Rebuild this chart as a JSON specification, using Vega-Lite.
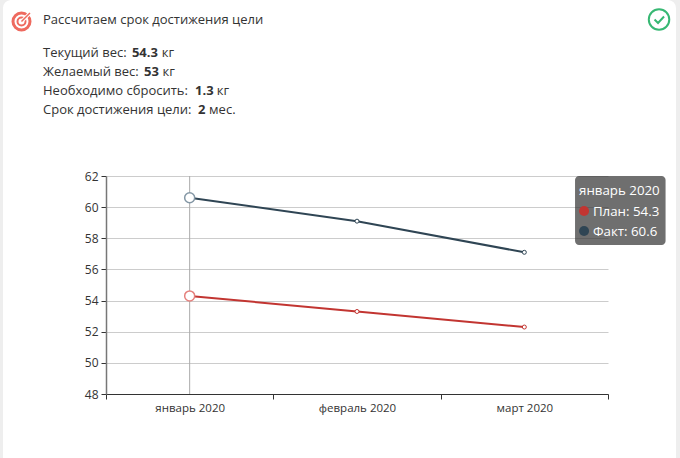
{
"$schema":"https://vega.github.io/schema/vega-lite/v6.json",
"width":502,"height":218,
"autosize":"none",
"padding":{"left":106,"top":176,"right":72,"bottom":64},
"background":"#ffffff",
"config":{"view":{"stroke":null},"text":{"font":"Open Sans","fontSize":13,"color":"#333333","align":"left","baseline":"middle"}},
"resolve":{"scale":{"x":"independent"},"axis":{"y":"independent"}},
"layer":[
{"data":{"values":[{"part":"card"}]},"mark":{"type":"rect","fill":null,"stroke":"#eeeeee","strokeWidth":8,"cornerRadius":12},
 "encoding":{"x":{"datum":-0.6394,"type":"quantitative","scale":{"domain":[0,3]},"axis":null},"x2":{"datum":3.43},"y":{"datum":73.56,"type":"quantitative","axis":null},"y2":{"datum":43.12}}},
{"data":{"values":[{"month":"январь 2020"}]},"mark":{"type":"rule","stroke":"#aaaaaa","strokeWidth":1},
 "encoding":{"x":{"datum":0.5,"type":"quantitative","scale":{"domain":[0,3]},"axis":null},"y":{"datum":48,"type":"quantitative","axis":null},"y2":{"datum":62}}},
{"data":{"values":[
{"month":"январь 2020","series":"План","value":54.3},{"month":"февраль 2020","series":"План","value":53.3},{"month":"март 2020","series":"План","value":52.3},
{"month":"январь 2020","series":"Факт","value":60.6},{"month":"февраль 2020","series":"Факт","value":59.1},{"month":"март 2020","series":"Факт","value":57.1}]},
 "mark":{"type":"line","strokeWidth":2,"point":{"filled":true,"fill":"#ffffff","size":16,"strokeWidth":1,"opacity":1,"stroke":{"expr":"datum.series==='План'?'#c23531':'#2f4554'"}}},
 "encoding":{
 "x":{"field":"month","type":"nominal","sort":null,"scale":{"type":"band","domain":["январь 2020","февраль 2020","март 2020"],"paddingInner":0,"paddingOuter":0},
  "axis":{"title":null,"labelAngle":0,"tickBand":"extent","tickSize":5,"domainColor":"#333333","tickColor":"#333333","labelColor":"#333333","labelFont":"Open Sans","labelFontSize":11.5,"labelPadding":3,"grid":false}},
 "y":{"field":"value","type":"quantitative","scale":{"domain":[48,62],"nice":false,"zero":false},
  "axis":{"title":null,"values":[48,50,52,54,56,58,60,62],"labelOverlap":false,"tickSize":5,"domainColor":"#777777","domainWidth":1.5,"tickColor":"#333333","labelColor":"#333333","labelFont":"Open Sans","labelFontSize":12,"labelPadding":3,"grid":true,"gridColor":"#cccccc"}},
 "color":{"field":"series","type":"nominal","scale":{"domain":["План","Факт"],"range":["#c23531","#2f4554"]},"legend":null}}},
{"data":{"values":[{"month":"январь 2020","series":"План","value":54.3},{"month":"январь 2020","series":"Факт","value":60.6}]},
 "mark":{"type":"point","filled":true,"fill":"#ffffff","size":100,"strokeWidth":1.5,"opacity":1},
 "encoding":{"x":{"field":"month","type":"nominal","sort":null,"scale":{"type":"band","domain":["январь 2020","февраль 2020","март 2020"],"paddingInner":0,"paddingOuter":0},"axis":null},
 "y":{"field":"value","type":"quantitative","axis":null},
 "stroke":{"field":"series","type":"nominal","scale":{"domain":["План","Факт"],"range":["#e5817d","#8497a5"]},"legend":null}}},
{"data":{"values":[{"part":"tooltip"}]},"mark":{"type":"rect","fill":"#323232","fillOpacity":0.7,"cornerRadius":4},
 "encoding":{"x":{"datum":2.803,"type":"quantitative","scale":{"domain":[0,3]},"axis":null},"x2":{"datum":3.344},"y":{"datum":62,"type":"quantitative","axis":null},"y2":{"datum":57.57}}},
{"data":{"values":[{"label":"январь 2020"}]},"mark":{"type":"text","color":"#ffffff","fontSize":13.3},
 "encoding":{"text":{"field":"label"},"x":{"datum":2.827,"type":"quantitative","scale":{"domain":[0,3]},"axis":null},"y":{"datum":61.05,"type":"quantitative","axis":null}}},
{"data":{"values":[{"label":"План: 54.3"}]},"mark":{"type":"text","color":"#ffffff","fontSize":13.3},
 "encoding":{"text":{"field":"label"},"x":{"datum":2.91,"type":"quantitative","scale":{"domain":[0,3]},"axis":null},"y":{"datum":59.7,"type":"quantitative","axis":null}}},
{"data":{"values":[{"label":"Факт: 60.6"}]},"mark":{"type":"text","color":"#ffffff","fontSize":13.3},
 "encoding":{"text":{"field":"label"},"x":{"datum":2.91,"type":"quantitative","scale":{"domain":[0,3]},"axis":null},"y":{"datum":58.42,"type":"quantitative","axis":null}}},
{"data":{"values":[{"series":"План"}]},"mark":{"type":"point","filled":true,"color":"#c23531","size":100,"opacity":1},
 "encoding":{"x":{"datum":2.857,"type":"quantitative","scale":{"domain":[0,3]},"axis":null},"y":{"datum":59.75,"type":"quantitative","axis":null}}},
{"data":{"values":[{"series":"Факт"}]},"mark":{"type":"point","filled":true,"color":"#2f4554","size":100,"opacity":1},
 "encoding":{"x":{"datum":2.857,"type":"quantitative","scale":{"domain":[0,3]},"axis":null},"y":{"datum":58.47,"type":"quantitative","axis":null}}},
{"data":{"values":[{"label":"Рассчитаем срок достижения цели"}]},"mark":{"type":"text"},
 "encoding":{"text":{"field":"label"},"x":{"datum":-0.3765,"type":"quantitative","scale":{"domain":[0,3]},"axis":null},"y":{"datum":72.03,"type":"quantitative","axis":null}}},
{"data":{"values":[{"label":"Текущий вес:"}]},"mark":{"type":"text"},
 "encoding":{"text":{"field":"label"},"x":{"datum":-0.3765,"type":"quantitative","scale":{"domain":[0,3]},"axis":null},"y":{"datum":69.9,"type":"quantitative","axis":null}}},
{"data":{"values":[{"label":"54.3"}]},"mark":{"type":"text","fontWeight":"bold"},
 "encoding":{"text":{"field":"label"},"x":{"datum":0.155,"type":"quantitative","scale":{"domain":[0,3]},"axis":null},"y":{"datum":69.9,"type":"quantitative","axis":null}}},
{"data":{"values":[{"label":"кг"}]},"mark":{"type":"text"},
 "encoding":{"text":{"field":"label"},"x":{"datum":0.333,"type":"quantitative","scale":{"domain":[0,3]},"axis":null},"y":{"datum":69.9,"type":"quantitative","axis":null}}},
{"data":{"values":[{"label":"Желаемый вес:"}]},"mark":{"type":"text"},
 "encoding":{"text":{"field":"label"},"x":{"datum":-0.3765,"type":"quantitative","scale":{"domain":[0,3]},"axis":null},"y":{"datum":68.68,"type":"quantitative","axis":null}}},
{"data":{"values":[{"label":"53"}]},"mark":{"type":"text","fontWeight":"bold"},
 "encoding":{"text":{"field":"label"},"x":{"datum":0.227,"type":"quantitative","scale":{"domain":[0,3]},"axis":null},"y":{"datum":68.68,"type":"quantitative","axis":null}}},
{"data":{"values":[{"label":"кг"}]},"mark":{"type":"text"},
 "encoding":{"text":{"field":"label"},"x":{"datum":0.338,"type":"quantitative","scale":{"domain":[0,3]},"axis":null},"y":{"datum":68.68,"type":"quantitative","axis":null}}},
{"data":{"values":[{"label":"Необходимо сбросить:"}]},"mark":{"type":"text"},
 "encoding":{"text":{"field":"label"},"x":{"datum":-0.3765,"type":"quantitative","scale":{"domain":[0,3]},"axis":null},"y":{"datum":67.46,"type":"quantitative","axis":null}}},
{"data":{"values":[{"label":"1.3"}]},"mark":{"type":"text","fontWeight":"bold"},
 "encoding":{"text":{"field":"label"},"x":{"datum":0.532,"type":"quantitative","scale":{"domain":[0,3]},"axis":null},"y":{"datum":67.46,"type":"quantitative","axis":null}}},
{"data":{"values":[{"label":"кг"}]},"mark":{"type":"text"},
 "encoding":{"text":{"field":"label"},"x":{"datum":0.662,"type":"quantitative","scale":{"domain":[0,3]},"axis":null},"y":{"datum":67.46,"type":"quantitative","axis":null}}},
{"data":{"values":[{"label":"Срок достижения цели:"}]},"mark":{"type":"text"},
 "encoding":{"text":{"field":"label"},"x":{"datum":-0.3765,"type":"quantitative","scale":{"domain":[0,3]},"axis":null},"y":{"datum":66.24,"type":"quantitative","axis":null}}},
{"data":{"values":[{"label":"2"}]},"mark":{"type":"text","fontWeight":"bold"},
 "encoding":{"text":{"field":"label"},"x":{"datum":0.55,"type":"quantitative","scale":{"domain":[0,3]},"axis":null},"y":{"datum":66.24,"type":"quantitative","axis":null}}},
{"data":{"values":[{"label":"мес."}]},"mark":{"type":"text"},
 "encoding":{"text":{"field":"label"},"x":{"datum":0.616,"type":"quantitative","scale":{"domain":[0,3]},"axis":null},"y":{"datum":66.24,"type":"quantitative","axis":null}}},
{"data":{"values":[{"part":"target outer"}]},"mark":{"type":"point","filled":false,"stroke":"#ee6a5f","strokeWidth":3,"size":289,"opacity":1},
 "encoding":{"x":{"datum":-0.505,"type":"quantitative","scale":{"domain":[0,3]},"axis":null},"y":{"datum":71.92,"type":"quantitative","axis":null}}},
{"data":{"values":[{"part":"target inner"}]},"mark":{"type":"point","filled":false,"stroke":"#ee6a5f","strokeWidth":2,"size":64,"opacity":1},
 "encoding":{"x":{"datum":-0.505,"type":"quantitative","scale":{"domain":[0,3]},"axis":null},"y":{"datum":71.92,"type":"quantitative","axis":null}}},
{"data":{"values":[{"part":"target arrow halo"}]},"mark":{"type":"point","filled":false,"stroke":"#ffffff","strokeWidth":3.5,"size":324,"opacity":1,"shape":"M0.15 -0.15L1 -1"},
 "encoding":{"x":{"datum":-0.505,"type":"quantitative","scale":{"domain":[0,3]},"axis":null},"y":{"datum":71.92,"type":"quantitative","axis":null}}},
{"data":{"values":[{"part":"target arrow"}]},"mark":{"type":"point","filled":false,"stroke":"#ee6a5f","strokeWidth":1.5,"size":400,"opacity":1,"shape":"M0 0L0.85 -0.85"},
 "encoding":{"x":{"datum":-0.505,"type":"quantitative","scale":{"domain":[0,3]},"axis":null},"y":{"datum":71.92,"type":"quantitative","axis":null}}},
{"data":{"values":[{"part":"check circle"}]},"mark":{"type":"point","filled":false,"stroke":"#37b873","strokeWidth":2,"size":420,"opacity":1},
 "encoding":{"x":{"datum":3.305,"type":"quantitative","scale":{"domain":[0,3]},"axis":null},"y":{"datum":72.05,"type":"quantitative","axis":null}}},
{"data":{"values":[{"part":"check mark"}]},"mark":{"type":"point","filled":false,"stroke":"#37b873","strokeWidth":2,"size":400,"opacity":1,"shape":"M-0.45 0L-0.1 0.35L0.5 -0.3"},
 "encoding":{"x":{"datum":3.305,"type":"quantitative","scale":{"domain":[0,3]},"axis":null},"y":{"datum":72.05,"type":"quantitative","axis":null}}}
]}
